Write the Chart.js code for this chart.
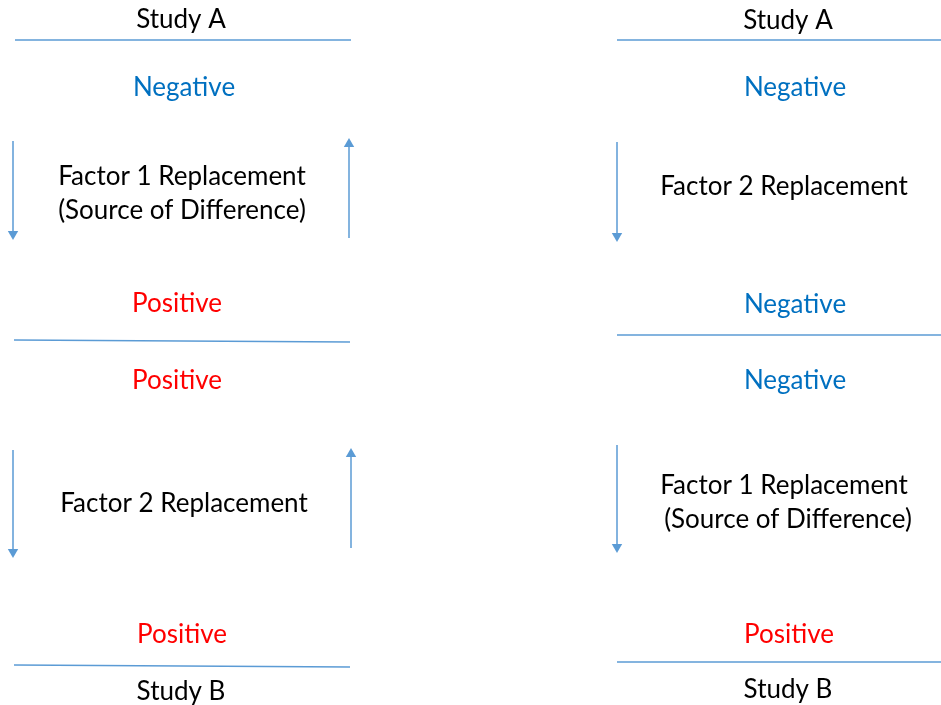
<!DOCTYPE html>
<html>
<head>
<meta charset="utf-8">
<script src="https://cdn.jsdelivr.net/npm/chart.js@4/dist/chart.umd.min.js"></script>
<style>
  html, body { margin: 0; padding: 0; background: #fff; }
  #wrap { width: 941px; height: 705px; }
</style>
</head>
<body>
<div id="wrap"><canvas id="diagram" width="941" height="705"></canvas></div>
<script>
// ─── Data (diagram units, y grows downward) ──────────────────────────────────

// horizontal rules: [x1, y1, x2, y2]
const ruleLines = [
  [15, 40, 351, 40],
  [14, 340, 350, 342],
  [14, 665, 350, 667],
  [617, 40, 941, 40],
  [617, 335, 941, 335],
  [617, 662, 941, 662],
];

// arrows: [x, yFrom, yHead]  (yHead = centre of the arrow head)
const arrows = [
  [13, 141, 234],
  [349, 238, 144],
  [13, 450, 552],
  [351, 548, 454],
  [617, 142, 236],
  [617, 445, 547],
];

// text labels
const labelText = [
  'Study A', 'Negative', 'Factor 1 Replacement', '(Source of Difference)', 'Positive',
  'Positive', 'Factor 2 Replacement', 'Positive', 'Study B',
  'Study A', 'Negative', 'Factor 2 Replacement', 'Negative',
  'Negative', 'Factor 1 Replacement', '(Source of Difference)', 'Positive', 'Study B',
];
const labelX = [
  181, 184, 182, 182, 177,
  177, 184, 182, 181,
  788, 795, 784, 795,
  795, 784, 788, 789, 788,
];
const labelY = [
  18, 86, 175, 209, 302,
  379, 502, 633, 690,
  19, 86, 185, 303,
  379, 484, 518, 633, 688,
];

// ─── Styles ──────────────────────────────────────────────────────────────────

const LINE_BLUE = '#5B9BD5';
const TEXT_COLOR = { Negative: '#0070C0', Positive: '#FF0000' };
const FONT = '26px Lato, "Open Sans", sans-serif';

const datasets = [];
ruleLines.forEach(([x1, y1, x2, y2]) => {
  datasets.push({
    data: [{ x: x1, y: y1 }, { x: x2, y: y2 }],
    showLine: true, borderColor: LINE_BLUE, borderWidth: 1.3,
    pointRadius: 0, clip: false,
  });
});
arrows.forEach(([x, y0, y1]) => {
  datasets.push({
    data: [{ x, y: y0 }, { x, y: y1 }],
    showLine: true, borderColor: LINE_BLUE, borderWidth: 1.5,
    pointStyle: 'triangle', pointRadius: [0, 6],
    pointRotation: y1 > y0 ? 180 : 0,
    pointBackgroundColor: LINE_BLUE, pointBorderColor: LINE_BLUE, pointBorderWidth: 0,
    clip: false,
  });
});

const textPlugin = {
  id: 'diagramText',
  afterDatasetsDraw(chart) {
    const { ctx, scales: { x, y } } = chart;
    ctx.save();
    ctx.font = FONT;
    ctx.textAlign = 'center';
    ctx.textBaseline = 'middle';
    labelText.forEach((t, i) => {
      ctx.fillStyle = TEXT_COLOR[t] || '#000000';
      // +2: Lato sits a little higher than the original face
      ctx.fillText(t, x.getPixelForValue(labelX[i]), y.getPixelForValue(labelY[i]) + 2);
    });
    ctx.restore();
  },
};

new Chart(document.getElementById('diagram'), {
  type: 'scatter',
  data: { datasets },
  options: {
    responsive: false,
    animation: false,
    layout: { padding: 0, autoPadding: false },
    scales: {
      x: { type: 'linear', min: 0, max: 941, display: false },
      y: { type: 'linear', min: 0, max: 705, reverse: true, display: false },
    },
    plugins: { legend: { display: false }, tooltip: { enabled: false } },
    events: [],
  },
  plugins: [textPlugin],
});
</script>
</body>
</html>
